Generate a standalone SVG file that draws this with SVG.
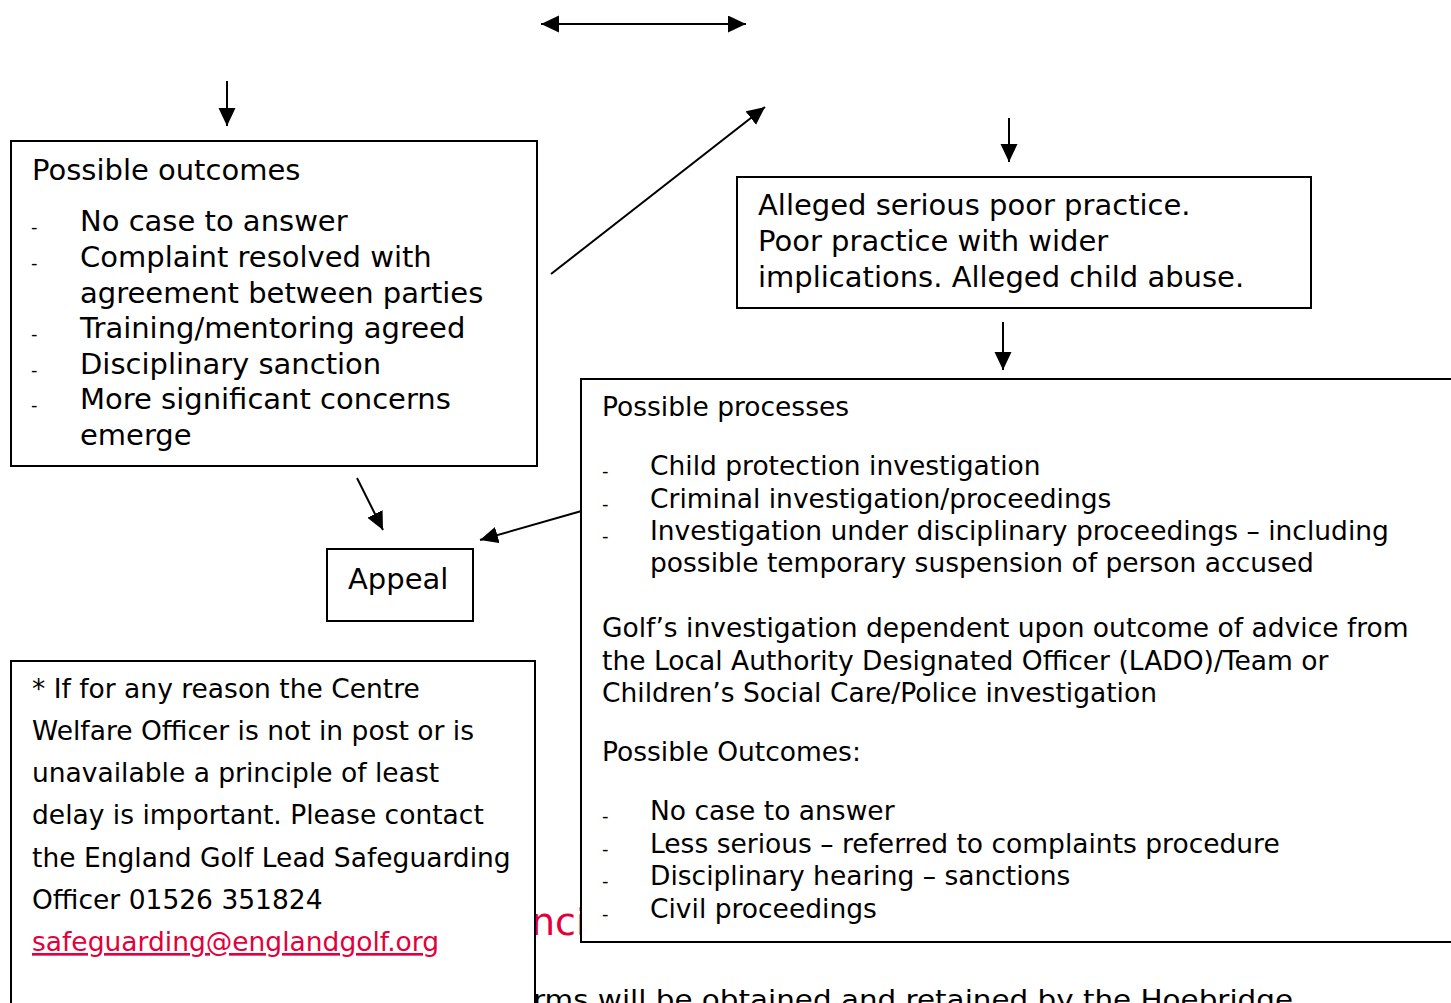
<svg xmlns="http://www.w3.org/2000/svg" width="1451" height="1003" viewBox="0 0 1451 1003">
<defs>
<style>
text{font-family:"DejaVu Sans",Verdana,sans-serif;fill:#000}
.l{font-size:29px}
.m{font-size:26.5px}
.d{font-size:18px}
.red{fill:#e2003c}
.box{fill:#fff;stroke:#000;stroke-width:2}
.con{stroke:#000;stroke-width:2;fill:none}
</style>
<marker id="ah" markerUnits="userSpaceOnUse" markerWidth="19" markerHeight="18" refX="18" refY="8.5" orient="auto-start-reverse">
<path d="M0,0 L18,8.5 L0,17 z" fill="#000"/>
</marker>
</defs>
<rect width="1451" height="1003" fill="#fff"/>
<g id="background-text">
<text x="531" y="935" style="font-size:38px" class="red">nci</text>
<text x="533" y="1009" class="m" textLength="760" lengthAdjust="spacingAndGlyphs">rms will be obtained and retained by the Hoebridge</text>
</g>
<g id="connectors">
<line class="con" x1="541" y1="24" x2="746" y2="24" marker-start="url(#ah)" marker-end="url(#ah)"/>
<line class="con" x1="227" y1="81" x2="227" y2="126" marker-end="url(#ah)"/>
<line class="con" x1="551" y1="274" x2="765" y2="107" marker-end="url(#ah)"/>
<line class="con" x1="1009" y1="118" x2="1009" y2="162" marker-end="url(#ah)"/>
<line class="con" x1="1003" y1="322" x2="1003" y2="370" marker-end="url(#ah)"/>
<line class="con" x1="357" y1="478" x2="383" y2="530" marker-end="url(#ah)"/>
<line class="con" x1="585" y1="510" x2="480" y2="540" marker-end="url(#ah)"/>
</g>
<g id="node-outcomes">
<rect class="box" x="11" y="141" width="526" height="325"/>
<text class="l" x="32" y="180">Possible outcomes</text>
<text class="d" x="31" y="233">-</text><text class="l" x="80" y="231">No case to answer</text>
<text class="d" x="31" y="269">-</text><text class="l" x="80" y="267">Complaint resolved with</text>
<text class="l" x="80" y="303">agreement between parties</text>
<text class="d" x="31" y="340">-</text><text class="l" x="80" y="338">Training/mentoring agreed</text>
<text class="d" x="31" y="376">-</text><text class="l" x="80" y="374">Disciplinary sanction</text>
<text class="d" x="31" y="411">-</text><text class="l" x="80" y="409">More significant concerns</text>
<text class="l" x="80" y="445">emerge</text>
</g>
<g id="node-alleged">
<rect class="box" x="737" y="177" width="574" height="131"/>
<text class="l" x="758" y="215">Alleged serious poor practice.</text>
<text class="l" x="758" y="251">Poor practice with wider</text>
<text class="l" x="758" y="287">implications. Alleged child abuse.</text>
</g>
<g id="node-appeal">
<rect class="box" x="327" y="549" width="146" height="72"/>
<text class="l" x="348" y="589">Appeal</text>
</g>
<g id="node-processes">
<rect class="box" x="581" y="379" width="880" height="563"/>
<text class="m" x="602" y="416">Possible processes</text>
<text class="d" x="602" y="477">-</text><text class="m" x="650" y="475">Child protection investigation</text>
<text class="d" x="602" y="510">-</text><text class="m" x="650" y="508">Criminal investigation/proceedings</text>
<text class="d" x="602" y="542">-</text><text class="m" x="650" y="540">Investigation under disciplinary proceedings – including</text>
<text class="m" x="650" y="572">possible temporary suspension of person accused</text>
<text class="m" x="602" y="637">Golf’s investigation dependent upon outcome of advice from</text>
<text class="m" x="602" y="670">the Local Authority Designated Officer (LADO)/Team or</text>
<text class="m" x="602" y="702">Children’s Social Care/Police investigation</text>
<text class="m" x="602" y="761">Possible Outcomes:</text>
<text class="d" x="602" y="822">-</text><text class="m" x="650" y="820">No case to answer</text>
<text class="d" x="602" y="855">-</text><text class="m" x="650" y="853">Less serious – referred to complaints procedure</text>
<text class="d" x="602" y="887">-</text><text class="m" x="650" y="885">Disciplinary hearing – sanctions</text>
<text class="d" x="602" y="920">-</text><text class="m" x="650" y="918">Civil proceedings</text>
</g>
<g id="node-note">
<rect class="box" x="11" y="661" width="524" height="360"/>
<text class="m" x="32" y="698">* If for any reason the Centre</text>
<text class="m" x="32" y="740">Welfare Officer is not in post or is</text>
<text class="m" x="32" y="782">unavailable a principle of least</text>
<text class="m" x="32" y="824">delay is important. Please contact</text>
<text class="m" x="32" y="867">the England Golf Lead Safeguarding</text>
<text class="m" x="32" y="909">Officer 01526 351824</text>
<text class="m red" x="32" y="951" text-decoration="underline">safeguarding@englandgolf.org</text>
</g>
</svg>
